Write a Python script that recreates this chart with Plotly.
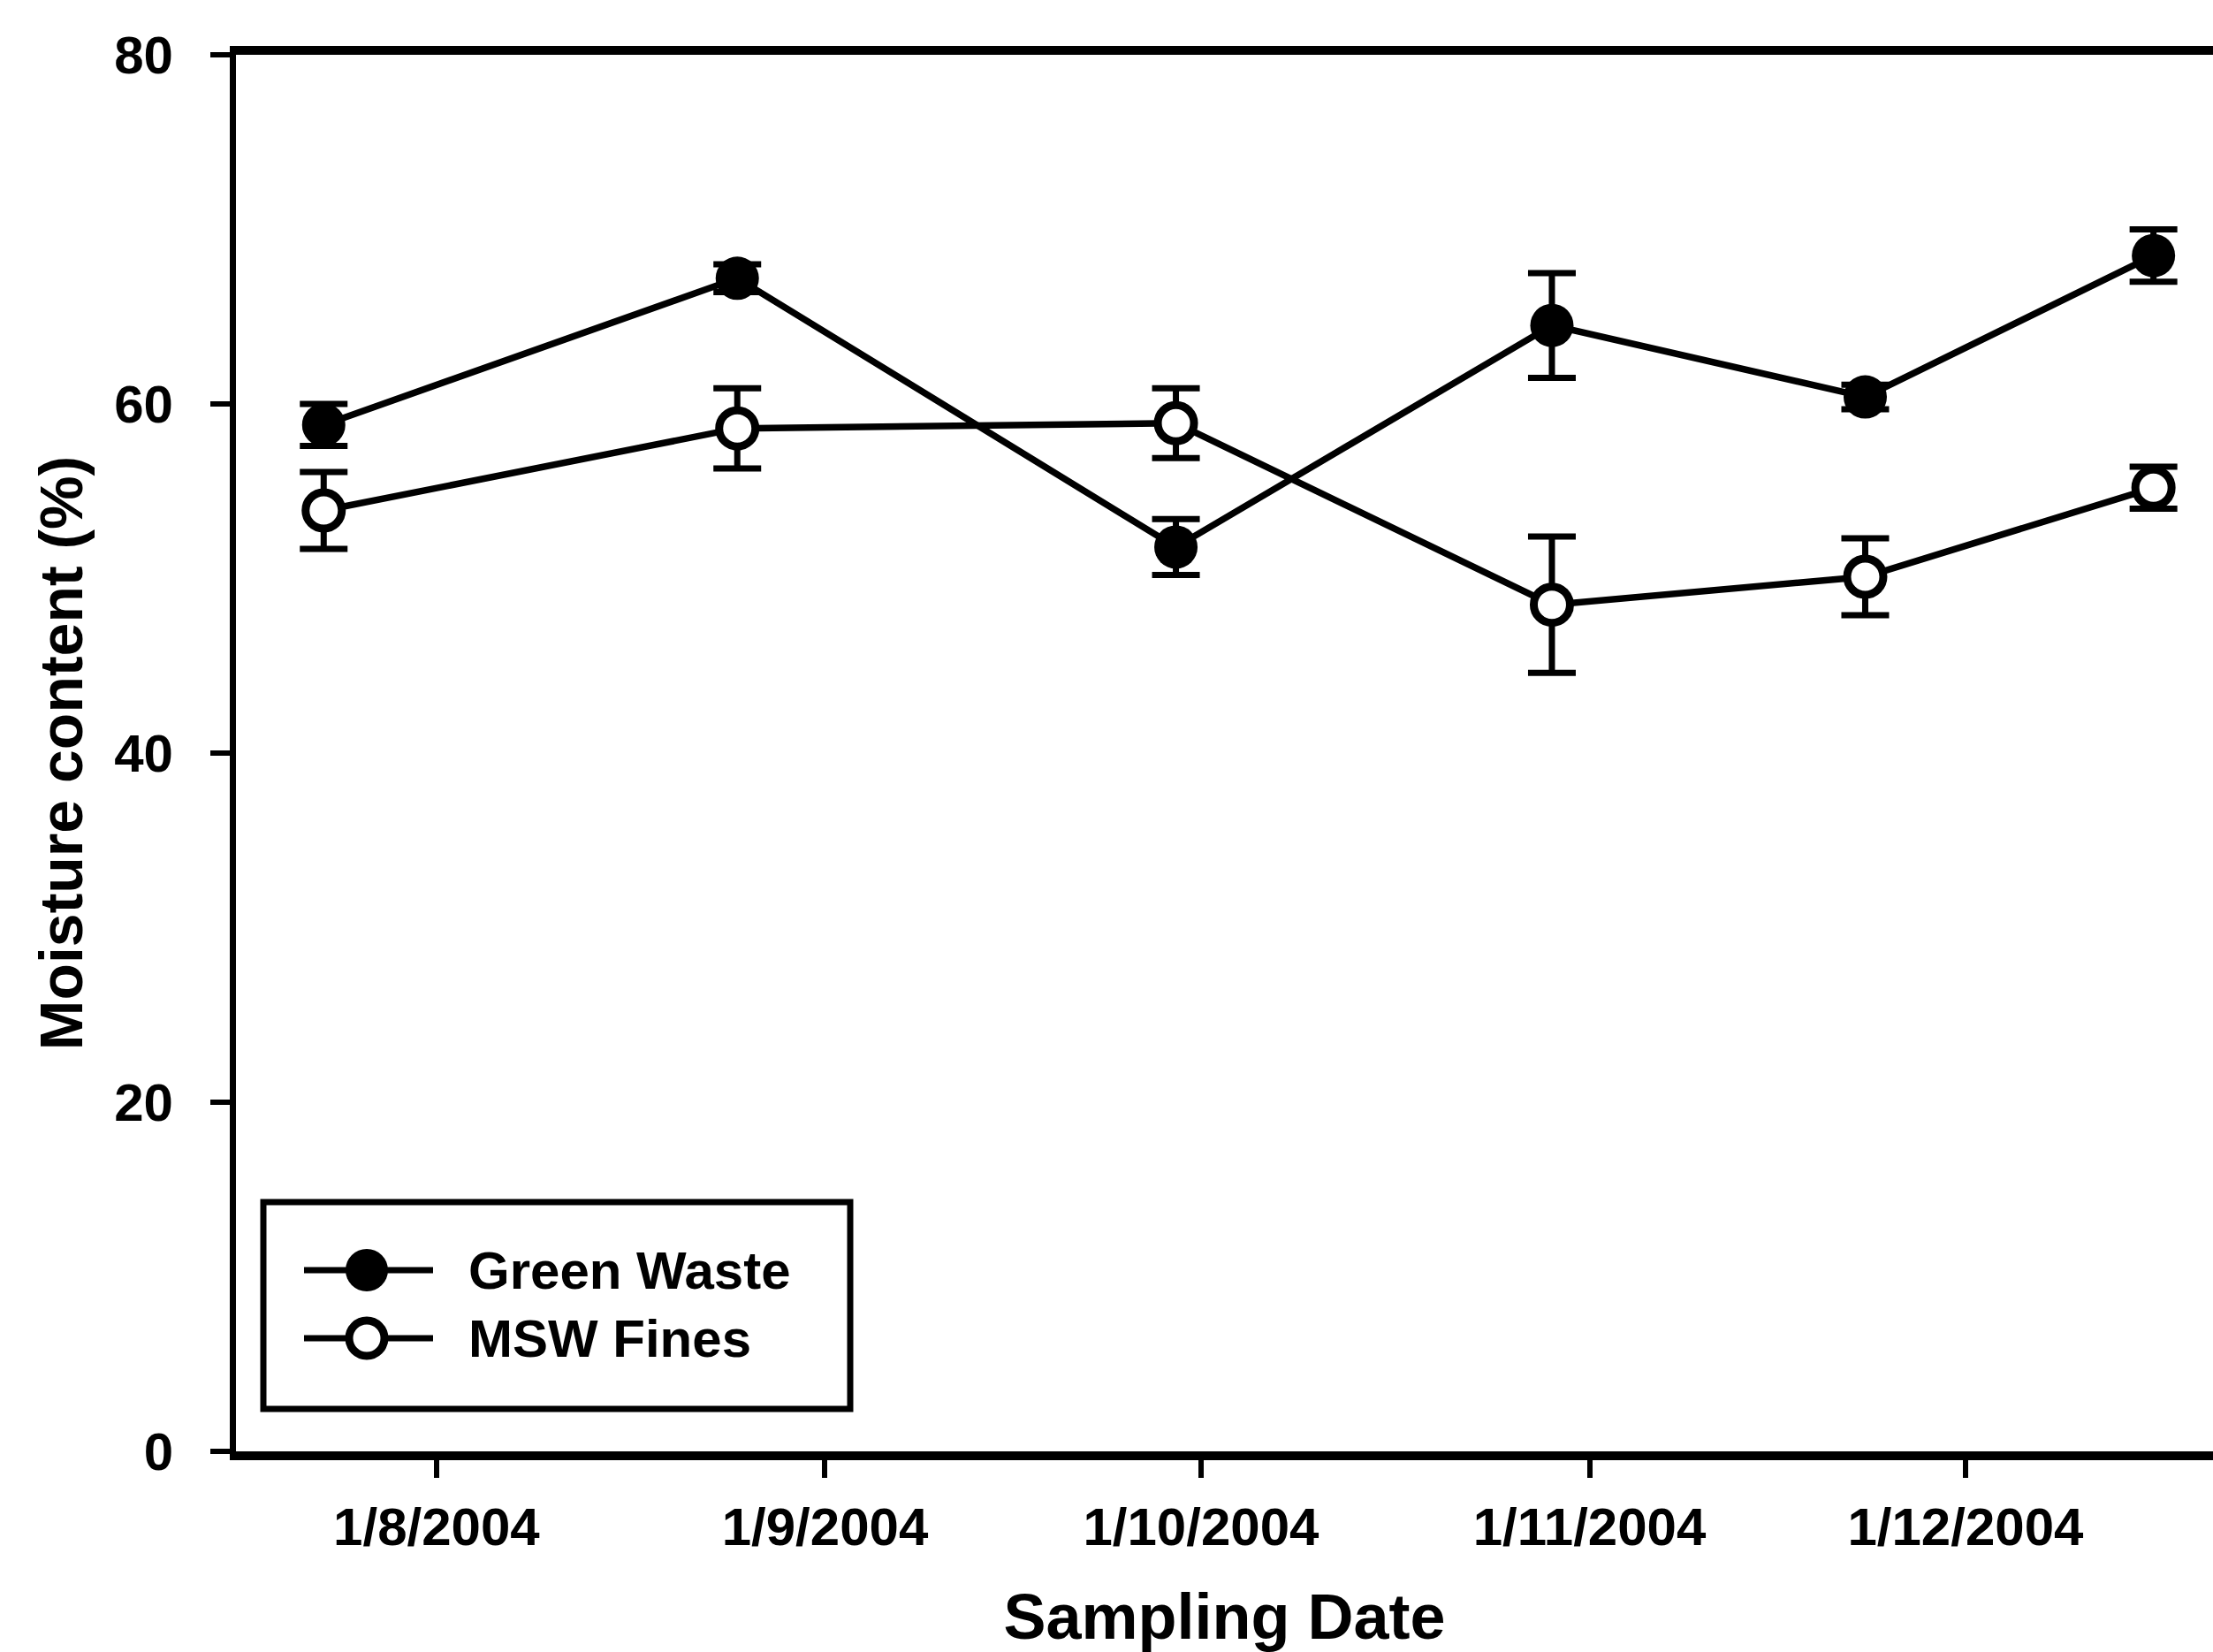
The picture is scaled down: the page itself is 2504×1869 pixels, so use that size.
import plotly.graph_objects as go

# Sampling dates and mean moisture content (%) with error bars
sample_dates = ["2004-07-23", "2004-08-25", "2004-09-29", "2004-10-29", "2004-11-23", "2004-12-16"]
green_waste = [58.8, 67.2, 51.8, 64.5, 60.4, 68.5]
green_waste_err = [1.2, 0.8, 1.6, 3.0, 0.7, 1.5]
msw_fines = [53.9, 58.6, 58.9, 48.5, 50.1, 55.2]
msw_fines_err = [2.2, 2.3, 2.0, 3.9, 2.2, 1.2]

tick_dates = ["2004-08-01", "2004-09-01", "2004-10-01", "2004-11-01", "2004-12-01"]
tick_labels = ["1/8/2004", "1/9/2004", "1/10/2004", "1/11/2004", "1/12/2004"]
y_ticks = [0, 20, 40, 60, 80]

series_names = ["Green Waste", "MSW Fines"]

# Canvas and plot-area geometry (pixels)
W, H = 2504, 1869
L, R, T, B = 267, 0, 62, 227

FONT = "Liberation Sans, Arial, sans-serif"
BLACK = "#000000"


def px_x(px):
    return (px - L) / (W - L - R)


def px_y(py):
    return (H - B - py) / (H - T - B)


fig = go.Figure()

fig.add_trace(go.Scatter(
    x=sample_dates, y=green_waste, name=series_names[0],
    mode="lines+markers",
    line=dict(color=BLACK, width=7.5),
    marker=dict(symbol="circle", size=49, color=BLACK, line=dict(width=0)),
    error_y=dict(type="data", array=green_waste_err, visible=True,
                 color=BLACK, thickness=7, width=27),
    showlegend=False,
))

fig.add_trace(go.Scatter(
    x=sample_dates, y=msw_fines, name=series_names[1],
    mode="lines+markers",
    line=dict(color=BLACK, width=7.5),
    marker=dict(symbol="circle", size=41, color="white",
                line=dict(color=BLACK, width=9)),
    error_y=dict(type="data", array=msw_fines_err, visible=True,
                 color=BLACK, thickness=7, width=27),
    showlegend=False,
))

# Legend box drawn by hand so the symbols keep the plot's marker size
shapes = [dict(type="rect", xref="paper", yref="paper",
               x0=px_x(298), x1=px_x(962), y0=px_y(1594), y1=px_y(1360),
               line=dict(color=BLACK, width=7), fillcolor="rgba(0,0,0,0)",
               layer="above")]
annotations = []
legend_rows = [(1437, True), (1514, False)]
for (row_y, filled), name in zip(legend_rows, series_names):
    shapes.append(dict(type="line", xref="paper", yref="paper",
                       x0=px_x(344), x1=px_x(490), y0=px_y(row_y), y1=px_y(row_y),
                       line=dict(color=BLACK, width=7), layer="above"))
    if filled:
        r = 24
        shapes.append(dict(type="circle", xref="paper", yref="paper",
                           x0=px_x(415 - r), x1=px_x(415 + r),
                           y0=px_y(row_y + r), y1=px_y(row_y - r),
                           fillcolor=BLACK, line=dict(color=BLACK, width=0),
                           layer="above"))
    else:
        r = 20
        shapes.append(dict(type="circle", xref="paper", yref="paper",
                           x0=px_x(415 - r), x1=px_x(415 + r),
                           y0=px_y(row_y + r), y1=px_y(row_y - r),
                           fillcolor="white", line=dict(color=BLACK, width=9),
                           layer="above"))
    annotations.append(dict(xref="paper", yref="paper", x=px_x(528), y=px_y(row_y),
                            xanchor="left", yanchor="middle", showarrow=False,
                            text=name,
                            font=dict(family=FONT, size=60, color=BLACK, weight="bold")))

fig.update_layout(
    width=W, height=H, autosize=False,
    margin=dict(l=L, r=R, t=T, b=B, pad=0),
    paper_bgcolor="white", plot_bgcolor="white",
    font=dict(family=FONT, size=60, color=BLACK, weight="bold"),
    shapes=shapes, annotations=annotations,
    showlegend=False,
)

fig.update_xaxes(
    type="date",
    range=["2004-07-16", "2004-12-20 18:00"],
    tickmode="array", tickvals=tick_dates, ticktext=tick_labels,
    ticks="outside", ticklen=20, tickwidth=6, tickcolor=BLACK,
    ticklabelstandoff=4,
    showline=True, linewidth=10, linecolor=BLACK, mirror=True,
    showgrid=False, zeroline=False,
    tickfont=dict(family=FONT, size=60, color=BLACK, weight="bold"),
    title=dict(text="Sampling Date", standoff=52,
               font=dict(family=FONT, size=72, color=BLACK, weight="bold")),
)

fig.update_yaxes(
    range=[0, 80],
    tickmode="array", tickvals=y_ticks,
    ticks="outside", ticklen=22, tickwidth=6, tickcolor=BLACK,
    ticklabelstandoff=30,
    showline=True, linewidth=7, linecolor=BLACK, mirror=False,
    showgrid=False, zeroline=False,
    tickfont=dict(family=FONT, size=60, color=BLACK, weight="bold"),
    title=dict(text="Moisture content (%)", standoff=16,
               font=dict(family=FONT, size=68, color=BLACK, weight="bold")),
)

fig.write_html("out.html")
